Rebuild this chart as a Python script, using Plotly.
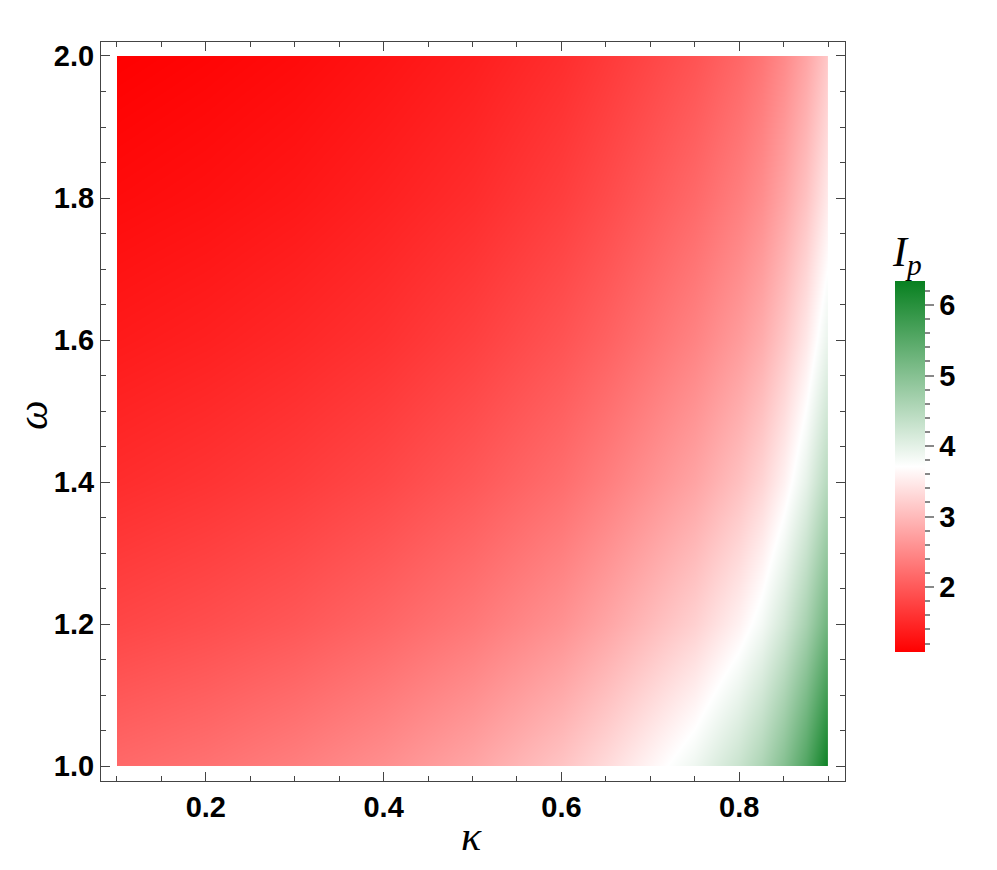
import plotly.graph_objects as go

# kappa sample points (x) and omega sample points (y)
kappa = [0.1, 0.2, 0.3, 0.4, 0.5, 0.6, 0.65, 0.7, 0.75, 0.8, 0.825, 0.85, 0.875, 0.9]
omega = [1.0, 1.2, 1.4, 1.6, 1.8, 2.0]

ip_w10 = [2.16, 2.25, 2.38, 2.55, 2.78, 3.10, 3.33, 3.60, 3.88, 4.28, 4.58, 5.00, 5.55, 6.30]
ip_w12 = [1.80, 1.88, 1.98, 2.13, 2.32, 2.58, 2.78, 3.00, 3.23, 3.57, 3.82, 4.17, 4.63, 5.25]
ip_w14 = [1.54, 1.61, 1.70, 1.82, 1.99, 2.21, 2.38, 2.57, 2.77, 3.06, 3.27, 3.57, 3.96, 4.50]
ip_w16 = [1.35, 1.41, 1.49, 1.59, 1.74, 1.94, 2.08, 2.25, 2.43, 2.68, 2.86, 3.13, 3.47, 3.94]
ip_w18 = [1.20, 1.25, 1.32, 1.42, 1.54, 1.72, 1.85, 2.00, 2.16, 2.38, 2.54, 2.78, 3.08, 3.50]
ip_w20 = [1.08, 1.13, 1.19, 1.28, 1.39, 1.55, 1.67, 1.80, 1.94, 2.14, 2.29, 2.50, 2.78, 3.15]

cbar_min, cbar_max = 1.08, 6.34
cbar_major = [2, 3, 4, 5, 6]

z = [ip_w10, ip_w12, ip_w14, ip_w16, ip_w18, ip_w20]

colorscale = [[0.0, "rgb(255,0,0)"], [0.5, "rgb(255,255,255)"], [1.0, "rgb(8,128,32)"]]

tick_font = dict(family="Liberation Sans", size=29, color="black", weight="bold")
title_font = dict(family="Liberation Serif", size=42, color="black")

# page body has an 8px margin; plot area in window: x 101..845, y 42..781
OFF = 8
L, R, T, B = 101, 845, 42, 781
W, H = 997, 870

def px_x(px):
    return (px - L) / (R - L)

def px_y(py):
    return (B - py) / (B - T)

cb_common = dict(
    xref="paper", yref="paper",
    x=px_x(895), xanchor="left",
    y=px_y(652), yanchor="bottom",
    lenmode="pixels", len=652 - 281,
    thicknessmode="pixels", thickness=30,
    xpad=0, ypad=0, outlinewidth=0,
)

fig = go.Figure()

# main field with the minor-tick colorbar
fig.add_trace(go.Contour(
    x=kappa, y=omega, z=z,
    zmin=cbar_min, zmax=cbar_max,
    colorscale=colorscale,
    contours=dict(coloring="heatmap", showlines=False),
    line=dict(width=0),
    hoverinfo="skip",
    colorbar=dict(
        tickmode="linear", tick0=0, dtick=0.2,
        ticks="outside", ticklen=5, tickwidth=1.5, tickcolor="#888",
        showticklabels=False,
        **cb_common,
    ),
))

# major-tick colorbar with labels (dummy trace outside the visible range)
fig.add_trace(go.Heatmap(
    x=[5], y=[5], z=[[3]],
    zmin=cbar_min, zmax=cbar_max,
    colorscale=colorscale,
    hoverinfo="skip",
    colorbar=dict(
        tickmode="array", tickvals=cbar_major,
        ticks="outside", ticklen=9, tickwidth=1.5, tickcolor="#888",
        tickfont=tick_font,
        **cb_common,
    ),
))

axis_common = dict(
    showline=True, linecolor="#444", linewidth=1.2, mirror="allticks",
    ticks="inside", ticklen=9, tickwidth=1.2, tickcolor="#444",
    tickfont=tick_font, tickformat=".1f",
    showgrid=False, zeroline=False,
    minor=dict(ticks="inside", ticklen=5, tickwidth=1, tickcolor="#444", dtick=0.05, showgrid=False),
)

fig.update_xaxes(range=[0.0821, 0.919], tick0=0, dtick=0.2, **axis_common)
fig.update_yaxes(range=[0.979, 2.0197], tick0=0, dtick=0.2, **axis_common)

fig.add_annotation(text="<i>κ</i>", xref="paper", yref="paper",
                   x=px_x(471), y=px_y(836), xanchor="center", yanchor="middle",
                   showarrow=False, font=title_font)
fig.add_annotation(text="<i>ω</i>", xref="paper", yref="paper",
                   x=px_x(33), y=px_y(415), xanchor="center", yanchor="middle",
                   textangle=-90, showarrow=False, font=title_font)
fig.add_annotation(text="<i>I</i><sub><i>p</i></sub>", xref="paper", yref="paper",
                   x=px_x(907), y=px_y(283), xanchor="center", yanchor="bottom",
                   showarrow=False, font=title_font)

fig.update_layout(
    width=W, height=H,
    margin=dict(l=L - OFF, r=W - (R - OFF), t=T - OFF, b=H - (B - OFF)),
    plot_bgcolor="white", paper_bgcolor="white",
    showlegend=False,
)

fig.write_html("out.html")
